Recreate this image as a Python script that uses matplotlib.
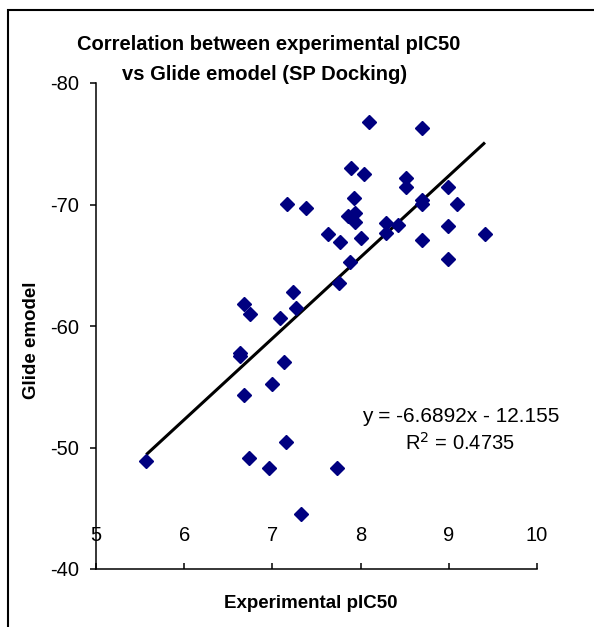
import matplotlib
matplotlib.use("Agg")
import matplotlib.pyplot as plt
from matplotlib.patches import Rectangle
import numpy as np

plt.rcParams['font.family'] = ['Liberation Sans', 'DejaVu Sans']

pic50 = [5.57, 6.63, 6.63, 6.68, 6.68, 6.73, 6.75, 6.96, 7.00, 7.09, 7.13, 7.15,
         7.16, 7.23, 7.27, 7.32, 7.38, 7.63, 7.73, 7.75, 7.77, 7.86, 7.88, 7.89,
         7.93, 7.94, 7.94, 8.00, 8.04, 8.09, 8.29, 8.42, 8.29, 8.52, 8.52, 8.70,
         8.70, 8.70, 8.70, 8.99, 9.09, 8.99, 9.41, 8.99]
emodel = [-48.91, -57.5, -57.8, -54.32, -61.81, -49.14, -60.99, -48.29, -55.23, -60.63,
          -57.00, -50.45, -70.02, -62.77, -61.51, -44.53, -69.69, -67.57, -48.29, -63.57,
          -66.89, -69.05, -65.30, -72.98, -70.51, -69.32, -68.59, -67.24, -72.49, -76.77,
          -68.45, -68.31, -67.63, -72.21, -71.47, -76.27, -70.37, -70.02, -67.08, -71.47,
          -70.02, -68.23, -67.55, -65.49]
slope = -6.6892
intercept = -12.155
r2 = 0.4735
x_ticks = [5, 6, 7, 8, 9, 10]
y_ticks = [-80, -70, -60, -50, -40]

fig = plt.figure(figsize=(5.94, 6.27), dpi=100)
ax = fig.add_axes([96/594, 1-569/627, (537-96)/594, (569-83)/627])

ax.plot(pic50, emodel, linestyle='none', marker='D', ms=7.2,
        color='#000080', mec='#000080', zorder=3)
xs = np.array([min(pic50), max(pic50)])
ax.plot(xs, slope*xs + intercept, color='black', lw=2.2, zorder=2,
        solid_capstyle='butt')

ax.set_xlim(5, 10)
ax.set_ylim(-40, -80)
ax.set_xticks(x_ticks)
ax.set_yticks(y_ticks)
ax.set_xticklabels([str(v) for v in x_ticks])
ax.set_yticklabels([str(v) for v in y_ticks])
for s in ['top', 'right']:
    ax.spines[s].set_visible(False)
for s in ['left', 'bottom']:
    ax.spines[s].set_linewidth(1.1)
ax.tick_params(axis='y', direction='out', length=4.5, width=1.1, pad=8, labelsize=14.5)
ax.tick_params(axis='x', direction='in', length=4.5, width=1.1, pad=-31, labelsize=14.5)

ax.set_xlabel('Experimental pIC50', fontsize=13.5, fontweight='bold', va='center')
ax.xaxis.set_label_coords((311-96)/441, -(604-569)/486)
ax.set_ylabel('Glide emodel', fontsize=13.5, fontweight='bold', va='center')
ax.yaxis.set_label_coords((31-96)/441, (569-340)/486)

fig.text(269/594, 1-44/627, 'Correlation between experimental pIC50',
         ha='center', va='center', fontsize=14.5, fontweight='bold')
fig.text(265/594, 1-74/627, 'vs Glide emodel (SP Docking)',
         ha='center', va='center', fontsize=14.5, fontweight='bold')

fig.text(461/594, 1-416/627, f'y = {slope:.4f}x - {abs(intercept):.3f}',
         ha='center', va='center', fontsize=15)
fig.text(460/594, 1-443/627, f'R$^2$ = {r2:.4f}',
         ha='center', va='center', fontsize=14.5)

fig.add_artist(Rectangle((8/594, -0.1), 1.2, 1.1 - 10/627,
                         transform=fig.transFigure, fill=False,
                         edgecolor='black', lw=1.5))

fig.savefig('out.png', dpi=100)
